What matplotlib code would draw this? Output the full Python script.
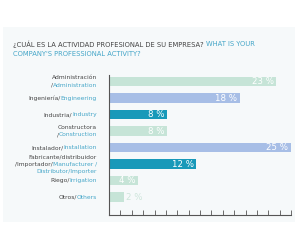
import matplotlib
matplotlib.use('Agg')
import matplotlib.pyplot as plt
import numpy as np
from matplotlib.transforms import blended_transform_factory
from matplotlib.patches import Rectangle

# ---- data ----
label_lines = [
    [[("Administración", "es")], [("/", "es"), ("Administration", "en")]],
    [[("Ingeniería/", "es"), ("Engineering", "en")]],
    [[("Industria/", "es"), ("Industry", "en")]],
    [[("Constructora", "es")], [("/", "es"), ("Construction", "en")]],
    [[("Instalador/", "es"), ("Installation", "en")]],
    [[("Fabricante/distribuidor", "es")],
     [("/Importador/", "es"), ("Manufacturer /", "en")],
     [("Distributor/Importer", "en")]],
    [[("Riego/", "es"), ("Irrigation", "en")]],
    [[("Otros/", "es"), ("Others", "en")]],
]
values = [23, 18, 8, 8, 25, 12, 4, 2]
title_es = "¿CUÁL ES LA ACTIVIDAD PROFESIONAL DE SU EMPRESA?"
title_en1 = "WHAT IS YOUR"
title_en2 = "COMPANY'S PROFESSIONAL ACTIVITY?"

# ---- style ----
MINT = "#c6e4d7"
BLUE = "#a7bee6"
TEAL = "#1899b9"
bar_colors = [MINT, BLUE, TEAL, MINT, BLUE, TEAL, MINT, MINT]
DARK = "#444444"
EN = "#45a6c8"
txt_col = {"es": DARK, "en": EN}
AXC = "#555555"

fig = plt.figure(figsize=(3.0, 2.5), dpi=100)
fig.patch.set_facecolor("white")
bg = Rectangle((3 / 300, 1 - 222 / 250), 292 / 300, 195 / 250,
               transform=fig.transFigure, facecolor="#f6f9fa",
               edgecolor="none", zorder=-10)
fig.add_artist(bg)

ax = fig.add_axes([109 / 300, 1 - 215 / 250, 182 / 300, 140 / 250])
ax.set_zorder(1)
ax.patch.set_visible(False)

y = np.arange(len(values))
ax.barh(y, values, height=0.55, color=bar_colors, zorder=2)
ax.set_xlim(0, 25)
ax.set_ylim(8.09, -0.394)

for s in ["top", "right"]:
    ax.spines[s].set_visible(False)
for s in ["left", "bottom"]:
    ax.spines[s].set_color(AXC)
    ax.spines[s].set_linewidth(0.8)
ax.set_xticks(np.linspace(0, 25, 17))
ax.set_yticks([])
ax.tick_params(axis="x", direction="in", length=3.5, width=0.6, color=AXC,
               labelbottom=False)

# value labels
for yi, v in zip(y, values):
    if v >= 4:
        ax.annotate(f"{v} %", xy=(v, yi), xytext=(-2, 0), textcoords="offset points",
                    ha="right", va="center", color="white", fontsize=6.2,
                    family="DejaVu Sans", zorder=3)
    else:
        ax.annotate(f"{v} %", xy=(v, yi), xytext=(2, 0), textcoords="offset points",
                    ha="left", va="center", color="#cde5db", fontsize=6.2,
                    family="DejaVu Sans", zorder=3)

# category labels (multi-colour)
blend = blended_transform_factory(fig.transFigure, ax.transData)
label_x = 97 / 300
spacing = 5.2
lfs = 4.3
for yi, lines in zip(y, label_lines):
    n = len(lines)
    offs = (np.arange(n) - (n - 1) / 2) * spacing
    for line, off in zip(lines, offs):
        segs = list(reversed(line))
        txt, lang = segs[0]
        prev = ax.annotate(txt, xy=(label_x, yi), xycoords=blend,
                           xytext=(0, -off), textcoords="offset points",
                           ha="right", va="center", color=txt_col[lang],
                           fontsize=lfs)
        for txt, lang in segs[1:]:
            prev = ax.annotate(txt, xy=(0, 0.5), xycoords=prev, ha="right",
                               va="center", color=txt_col[lang], fontsize=lfs)

# title
tfs = 4.9
t1 = ax.annotate(title_es, xy=(13 / 300, 1 - 44 / 250), xycoords=fig.transFigure,
                 ha="left", va="center", color=DARK, fontsize=tfs)
ax.annotate(title_en1, xy=(1, 0.5), xycoords=t1, xytext=(2, 0),
            textcoords="offset points", ha="left", va="center", color=EN, fontsize=tfs)
ax.annotate(title_en2, xy=(13 / 300, 1 - 54 / 250), xycoords=fig.transFigure,
            ha="left", va="center", color=EN, fontsize=tfs)

fig.savefig("out.png", dpi=100, facecolor="white")
